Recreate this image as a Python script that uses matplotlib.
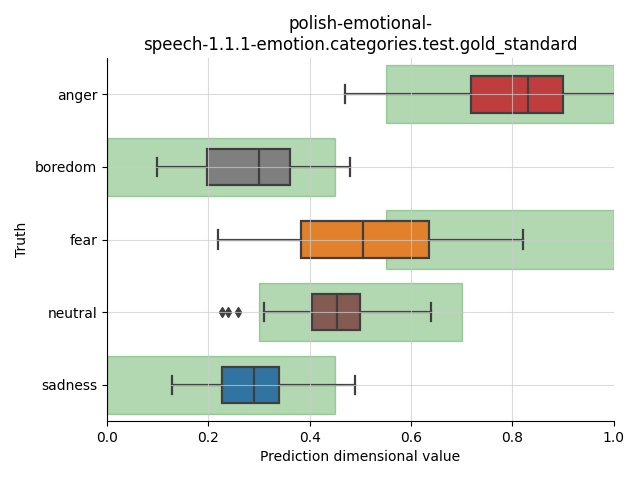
import numpy as np
import matplotlib
matplotlib.use('Agg')
import matplotlib.pyplot as plt

categories = ['anger', 'boredom', 'fear', 'neutral', 'sadness']
whislo = [0.469, 0.099, 0.219, 0.310, 0.128]
q1 = [0.719, 0.197, 0.382, 0.404, 0.227]
med = [0.830, 0.300, 0.505, 0.454, 0.290]
q3 = [0.899, 0.361, 0.635, 0.499, 0.340]
whishi = [1.05, 0.479, 0.820, 0.639, 0.489]
fliers = [[], [], [], [0.228, 0.239, 0.259], []]
# expected (gold) range per category
range_lo = [0.55, 0.0, 0.55, 0.30, 0.0]
range_hi = [1.0, 0.45, 1.0, 0.70, 0.45]
box_colors = ['#c03d3e', '#7f7f7f', '#e1812c', '#845b53', '#3274a1']

fig, ax = plt.subplots(figsize=(6.4, 4.8))
pos = np.arange(len(categories))

ax.barh(pos, np.array(range_hi) - np.array(range_lo), left=range_lo, height=0.8,
        color='green', alpha=0.3, edgecolor='green', linewidth=1, zorder=1)

stats = []
for i, c in enumerate(categories):
    stats.append(dict(label=c, whislo=whislo[i], q1=q1[i], med=med[i],
                      q3=q3[i], whishi=whishi[i], fliers=fliers[i]))

line = '#3f3f3f'
bp = ax.bxp(stats, positions=pos, vert=False, widths=0.5, patch_artist=True,
            boxprops=dict(edgecolor=line, linewidth=1.6),
            medianprops=dict(color=line, linewidth=1.6),
            whiskerprops=dict(color=line, linewidth=1.6),
            capprops=dict(color=line, linewidth=1.6),
            flierprops=dict(marker='d', markerfacecolor=line, markeredgecolor=line,
                            markersize=5))
for patch, col in zip(bp['boxes'], box_colors):
    patch.set_facecolor(col)

ax.set_axisbelow(False)
ax.grid(True, color='#cccccc', alpha=0.7, linewidth=0.8, zorder=5)
for s in ax.spines.values():
    s.set_zorder(6)
ax.set_yticks(pos)
ax.set_yticklabels(categories)
ax.set_ylim(len(categories) - 0.5, -0.5)
ax.set_xlim(0, 1)
ax.spines['top'].set_visible(False)
ax.spines['right'].set_visible(False)
ax.set_xlabel('Prediction dimensional value')
ax.set_ylabel('Truth')
ax.set_title('polish-emotional-\nspeech-1.1.1-emotion.categories.test.gold_standard')

plt.subplots_adjust(left=0.167, right=0.959, top=0.879, bottom=0.123)
plt.savefig('out.png', dpi=100)
